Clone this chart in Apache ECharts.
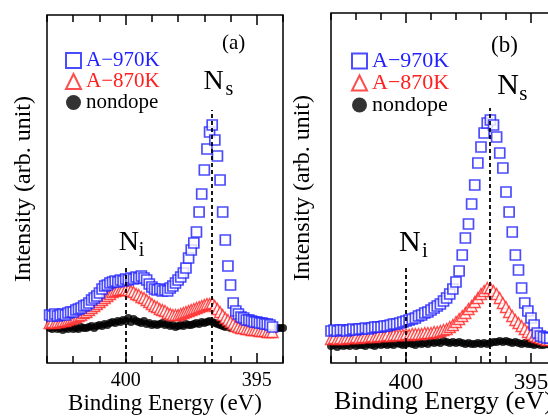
<!DOCTYPE html>
<html>
<head>
<meta charset="utf-8">
<script src="https://cdn.jsdelivr.net/npm/echarts@6/dist/echarts.min.js"></script>
<style>
  html, body { margin: 0; padding: 0; background: #fff; }
  #chart { width: 548px; height: 416px; }
</style>
</head>
<body>
<div id="chart"></div>
<script>
// N 1s XPS spectra, two panels, binding energy axis reversed
var FONT = 'Liberation Serif';
var BLUE = '#1f1fff';
var RED = '#ff2020';

// panel (a): energy grid starts / steps (eV)
var aStart = 402.9, aStep = 0.1;
var a970 = [48,47,49,47,48,49,48,50,51,51, 53,54,55,57,58,60,63,65,67,70,
  74,77,78,80,81,82,81,83,82,84, 83,85,84,86,85,87,85,83,79,76,
  74,73,74,72,73,72,75,77,80,83, 86,90,95,105,113,120,131,151,169,193,
  214,231,238,223,207,183,151,123,97,78, 60,52,49,46,45,43,43,42,41,41,
  40,40,39,39,38,36];
var a870 = [40,41,40,41,41,42,42,43,44,45, 46,47,48,50,51,53,55,57,59,61,
  63,65,67,69,71,72,73,73,74,73, 73,72,71,69,68,66,65,63,61,59,
  57,56,54,53,52,50,49,48,48,48, 49,50,51,52,53,54,55,56,57,58,
  59,59,60,57,54,51,48,45,43,41, 39,37,36,35,35,34,34,33,33,33,
  32,32,32,31,31,31];
var aNondope = [35,34,36,34,35,33,35,34,36,34, 35,34,36,35,35,36,37,35,37,38,
  37,39,38,40,41,40,42,41,43,42, 45,41,44,42,41,40,42,39,40,38,
  39,38,39,40,38,39,37,38,36,37, 38,37,39,38,38,39,40,39,41,40,
  41,42,41,40,39,38,37,36,37,35, 36,35,34,35,33,34,33,34,33,33,
  34,33,34,35,34,35,34,35,35,35];

// panel (b)
var bStart = 403.0, bStep = 0.125;
var b970 = [32,33,32,33,33,32,33,34,33,34, 34,35,34,35,36,36,36,37,37,38,
  39,39,40,41,42,43,44,45,47,48, 50,51,53,55,57,59,62,65,69,74,
  81,92,108,125,139,159,178,200,216,230, 240,243,238,226,210,195,171,151,131,108,
  93,75,60,52,45,38,30,27,26,25, 25];
var b870 = [24,25,24,25,24,25,25,25,26,25, 26,26,26,27,26,27,27,27,28,27,
  28,28,28,28,29,28,29,29,29,29, 30,30,30,31,31,32,33,34,36,38,
  41,44,47,50,54,57,61,65,69,72, 75,75,72,69,65,60,56,51,47,43,
  40,37,34,31,29,27,26,25,24,23, 23];
var bNondope = [17,18,16,18,17,18,17,19,17,18, 18,17,19,18,17,19,18,19,18,19,
  18,20,19,18,19,20,19,18,20,19, 20,19,21,20,21,20,22,21,20,21,
  20,21,20,19,20,19,19,20,19,20, 19,20,21,21,22,21,22,21,20,21,
  20,19,20,19,19,18,19,18,18,19, 18];

var seriesNames = ['A\u2212970K', 'A\u2212870K', 'nondope'];
var axisRange = [394, 403];
var labelledTicks = [400, 395];
// peak markers: energy and top of dashed line (intensity units)
var aPeaks = [{ name: 's', energy: 396.73, top: 253 }, { name: 'i', energy: 400.0, top: 96 }];
var bPeaks = [{ name: 's', energy: 396.67, top: 255 }, { name: 'i', energy: 400.0, top: 96 }];

function pairs(start, step, vals) {
  var out = [];
  for (var i = 0; i < vals.length; i++) out.push([+(start - step * i).toFixed(3), vals[i]]);
  return out;
}

var chart = echarts.init(document.getElementById('chart'), null, { renderer: 'canvas' });

function xAxes(g, labelSize, nameSize, nameGap) {
  var base = {
    gridIndex: g, type: 'value', min: axisRange[0], max: axisRange[1], inverse: true,
    interval: 1, axisLine: { show: false }, splitLine: { show: false }
  };
  var tick = { inside: true, length: 7, lineStyle: { color: '#000', width: 1.5 } };
  var majorTick = { inside: true, length: 10, customValues: labelledTicks, lineStyle: { color: '#000', width: 1.5 } };
  return [
    Object.assign({}, base, {
      position: 'bottom', axisTick: tick,
      axisLabel: {
        margin: 8, fontSize: labelSize, fontFamily: FONT, color: '#000',
        formatter: function (v) { return labelledTicks.indexOf(v) >= 0 ? String(v) : ''; }
      },
      name: 'Binding Energy (eV)', nameLocation: 'middle', nameGap: nameGap, nameMoveOverlap: false,
      nameTextStyle: { fontSize: nameSize, fontFamily: FONT, color: '#000' }
    }),
    Object.assign({}, base, { position: 'top', axisTick: tick, axisLabel: { show: false } }),
    Object.assign({}, base, { position: 'bottom', axisTick: majorTick, axisLabel: { show: false } }),
    Object.assign({}, base, { position: 'top', axisTick: majorTick, axisLabel: { show: false } })
  ];
}

function panelSeries(g, d970, d870, dNon, peaks) {
  var xi = g * 4, yi = g;
  var marks = peaks.map(function (p) {
    return [{ coord: [p.energy, 0] }, { coord: [p.energy, p.top] }];
  });
  return [
    {
      name: seriesNames[2], type: 'scatter', xAxisIndex: xi, yAxisIndex: yi,
      symbol: 'circle', symbolSize: 8, itemStyle: { color: '#000' }, data: dNon
    },
    {
      name: seriesNames[1], type: 'scatter', xAxisIndex: xi, yAxisIndex: yi,
      symbol: 'triangle', symbolSize: 11,
      itemStyle: { color: '#fff', borderColor: RED, borderWidth: 1.4 }, data: d870
    },
    {
      name: seriesNames[0], type: 'scatter', xAxisIndex: xi, yAxisIndex: yi,
      symbol: 'rect', symbolSize: 10,
      itemStyle: { color: '#fff', borderColor: BLUE, borderWidth: 1.7 }, data: d970,
      markLine: {
        silent: true, symbol: 'none', animation: false,
        label: { show: false },
        lineStyle: { color: '#000', type: [4, 3], width: 1.8 },
        data: marks
      }
    }
  ];
}

function legendFor(left, top, size) {
  return {
    orient: 'vertical', left: left, top: top, itemWidth: 15, itemHeight: 15, itemGap: 0,
    textStyle: { fontSize: size, lineHeight: 21, fontFamily: FONT },
    data: [
      { name: seriesNames[0], textStyle: { color: BLUE } },
      { name: seriesNames[1], textStyle: { color: RED } },
      { name: seriesNames[2], textStyle: { color: '#000' } }
    ]
  };
}

var yName = { fontSize: 24, fontFamily: FONT, color: '#000' };

chart.setOption({
  animation: false,
  backgroundColor: '#fff',
  grid: [
    { left: 47, top: 15, width: 236, height: 348, show: true, borderColor: '#000', borderWidth: 1.5,
      containLabel: false, outerBoundsMode: 'none' },
    { left: 331, top: 13, width: 225, height: 350, show: true, borderColor: '#000', borderWidth: 1.5,
      containLabel: false, outerBoundsMode: 'none' }
  ],
  xAxis: xAxes(0, 20, 23, 29).concat(xAxes(1, 23, 26, 26)),
  yAxis: [
    { gridIndex: 0, type: 'value', min: 0, max: 348, axisLine: { show: false }, axisTick: { show: false },
      axisLabel: { show: false }, splitLine: { show: false },
      name: 'Intensity (arb. unit)', nameLocation: 'middle', nameGap: 11, nameMoveOverlap: false, nameTextStyle: yName },
    { gridIndex: 1, type: 'value', min: 0, max: 350, axisLine: { show: false }, axisTick: { show: false },
      axisLabel: { show: false }, splitLine: { show: false },
      name: 'Intensity (arb. unit)', nameLocation: 'middle', nameGap: 16, nameMoveOverlap: false, nameTextStyle: yName }
  ],
  legend: [legendFor(60, 45, 21), legendFor(346, 45, 22)],
  series: panelSeries(0, pairs(aStart, aStep, a970), pairs(aStart, aStep, a870), pairs(aStart, aStep, aNondope), aPeaks)
    .concat(panelSeries(1, pairs(bStart, bStep, b970), pairs(bStart, bStep, b870), pairs(bStart, bStep, bNondope), bPeaks))
});

// peak labels N_s / N_i, anchored at the top of each dashed line
// offsets: [N dx, N dy, sub dx, sub dy, N size, sub size]
var labelOffsets = [
  [[-8, -28, 14, -20, 28, 20], [-7, -24, 13, -16, 28, 20]],
  [[8, -22, 30, -14, 30, 21], [-7, -24, 16, -16, 30, 21]]
];
var graphics = [
  { type: 'text', left: 222, top: 33, style: { text: '(a)', font: '21px ' + FONT, fill: '#000' } },
  { type: 'text', left: 491, top: 34, style: { text: '(b)', font: '23px ' + FONT, fill: '#000' } }
];
[aPeaks, bPeaks].forEach(function (peaks, g) {
  peaks.forEach(function (p, k) {
    var pt = chart.convertToPixel({ seriesIndex: g * 3 + 2 }, [p.energy, p.top]);
    var o = labelOffsets[g][k];
    graphics.push({ type: 'text', x: pt[0] + o[0], y: pt[1] + o[1],
      style: { text: 'N', font: o[4] + 'px ' + FONT, fill: '#000', verticalAlign: 'middle', align: 'left' } });
    graphics.push({ type: 'text', x: pt[0] + o[2], y: pt[1] + o[3],
      style: { text: p.name, font: o[5] + 'px ' + FONT, fill: '#000', verticalAlign: 'middle', align: 'left' } });
  });
});
chart.setOption({ graphic: graphics });
</script>
</body>
</html>
